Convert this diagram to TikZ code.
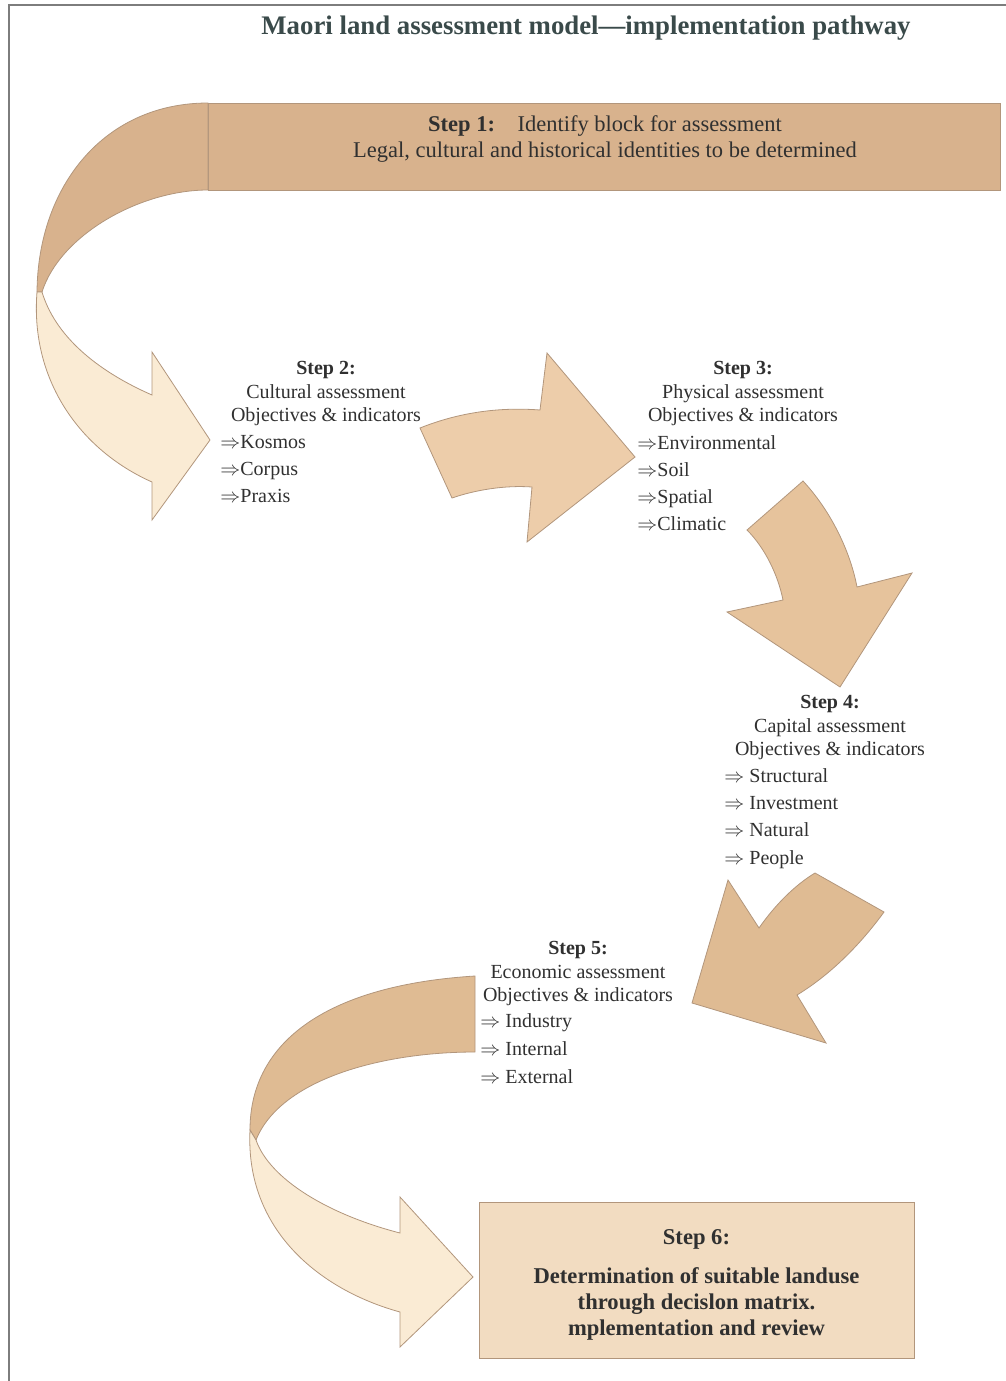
\documentclass[tikz,border=0pt]{standalone}
\usepackage{fontspec}
\setmainfont{Liberation Serif}
\usetikzlibrary{positioning}

\definecolor{titlegray}{RGB}{58,74,74}
\definecolor{textgray}{RGB}{48,48,48}
\definecolor{framegray}{RGB}{125,125,125}
\definecolor{edgebrown}{RGB}{178,150,124}
\definecolor{tanband}{RGB}{216,178,141}
\definecolor{creamband}{RGB}{250,235,212}
\definecolor{arrowlight}{RGB}{237,205,170}
\definecolor{arrowmid}{RGB}{230,195,156}
\definecolor{arrowdark}{RGB}{223,187,147}
\definecolor{stepsix}{RGB}{242,220,193}

\begin{document}
\begin{tikzpicture}[x=0.5pt, y=-0.5pt,
  outline/.style={draw=edgebrown, line width=0.4pt},
  headtext/.style={inner sep=0pt, text=textgray, align=center, font=\fontsize{10}{11.75}\selectfont},
  itemtext/.style={inner sep=0pt, text=textgray, align=left, font=\fontsize{10}{13.5}\selectfont}]
  \useasboundingbox (0,0) rectangle (1006,1381);

  % Frame
  \draw[framegray, line width=1pt] (9,1381) -- (9,5) -- (1006,5);

  % Title
  \node[anchor=base, text=titlegray, font=\fontsize{13.4}{16}\bfseries\selectfont] (title) at (586,34)
    {Maori land assessment model---implementation pathway};

  % Step 1 block and its curved arrow
  \fill[tanband, outline] (208,103) rectangle (1000,190);
  \fill[tanband, outline] (208,103) .. controls (105,103) and (38,185) .. (37,292)
    -- (42,292) .. controls (60,235) and (140,190) .. (208,190) -- cycle;
  \fill[creamband, outline] (37,292) .. controls (30,380) and (80,450) .. (152,482)
    -- (152,520) -- (210,440) -- (152,352) -- (152,395)
    .. controls (95,370) and (55,335) .. (42,292) -- cycle;
  \node[headtext, anchor=north, font=\fontsize{11.25}{13}\selectfont] (s1) at (605,115)
    {\textbf{Step 1:}\quad Identify block for assessment\\ Legal, cultural and historical identities to be determined};

  % Arrow 2 -> 3
  \fill[arrowlight, outline] (420,428) .. controls (460,412) and (500,407) .. (540,410)
    -- (547,353) -- (635,457) -- (527,542) -- (532,487)
    .. controls (505,485) and (475,490) .. (452,498) -- cycle;

  % Arrow 3 -> 4
  \fill[arrowmid, outline] (747,530) -- (803,481) .. controls (830,510) and (850,550) .. (857,587)
    -- (912,573) -- (840,687) -- (727,612) -- (783,600)
    .. controls (778,575) and (765,548) .. (747,530) -- cycle;

  % Arrow 4 -> 5
  \fill[arrowdark, outline] (728,880) -- (759,928) .. controls (775,905) and (795,885) .. (815,873)
    -- (884,912) .. controls (860,945) and (830,975) .. (797,995)
    -- (826,1043) -- (692,1003) -- cycle;

  % Arrow 5 -> 6
  \fill[arrowdark, outline] (475,976) .. controls (330,985) and (250,1040) .. (250,1130)
    -- (256,1140) .. controls (280,1080) and (380,1052) .. (475,1052) -- cycle;
  \fill[creamband, outline] (250,1130) .. controls (245,1230) and (320,1290) .. (400,1312)
    -- (400,1347) -- (473,1277) -- (400,1197) -- (400,1233)
    .. controls (330,1215) and (270,1180) .. (256,1140) -- cycle;

  % Step 2
  \node[headtext, anchor=north] (s2) at (326,361)
    {\textbf{Step 2:}\\ Cultural assessment\\ Objectives \& indicators};
  \node[itemtext, anchor=north west] (s2items) at (220,435)
    {$\Rightarrow$Kosmos\\ $\Rightarrow$Corpus\\ $\Rightarrow$Praxis};

  % Step 3
  \node[headtext, anchor=north] (s3) at (743,361)
    {\textbf{Step 3:}\\ Physical assessment\\ Objectives \& indicators};
  \node[itemtext, anchor=north west] (s3items) at (637,435)
    {$\Rightarrow$Environmental\\ $\Rightarrow$Soil\\ $\Rightarrow$Spatial\\ $\Rightarrow$Climatic};

  % Step 4
  \node[headtext, anchor=north] (s4) at (830,695)
    {\textbf{Step 4:}\\ Capital assessment\\ Objectives \& indicators};
  \node[itemtext, anchor=north west, font=\fontsize{10}{13.65}\selectfont] (s4items) at (724,768)
    {$\Rightarrow$\ Structural\\ $\Rightarrow$\ Investment\\ $\Rightarrow$\ Natural\\ $\Rightarrow$\ People};

  % Step 5
  \node[headtext, anchor=north] (s5) at (578,941)
    {\textbf{Step 5:}\\ Economic assessment\\ Objectives \& indicators};
  \node[itemtext, anchor=north west, font=\fontsize{10}{14}\selectfont] (s5items) at (480,1013)
    {$\Rightarrow$\ Industry\\ $\Rightarrow$\ Internal\\ $\Rightarrow$\ External};

  % Step 6
  \node[fill=stepsix, outline, minimum width=217.5pt, minimum height=78pt] (s6) at (696.5,1280) {};
  \node[align=center, text=textgray, font=\fontsize{11.3}{13}\bfseries\selectfont] (s6text)
    at ([yshift=-2.5pt]s6.center)
    {Step 6:\\[6.5pt] Determination of suitable landuse\\ through decislon matrix.\\ mplementation and review};
\end{tikzpicture}
\end{document}
